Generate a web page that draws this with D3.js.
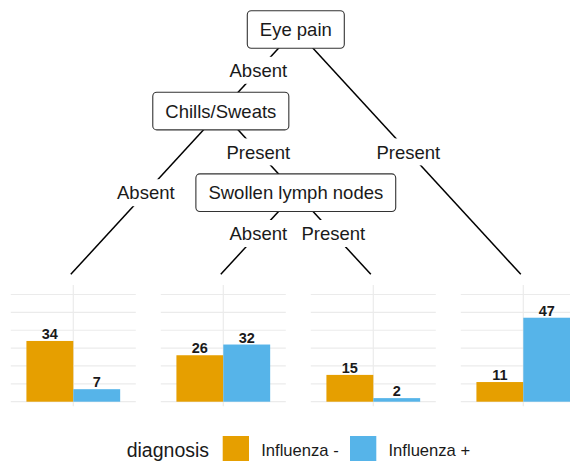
<!DOCTYPE html>
<html>
<head>
<meta charset="utf-8">
<script src="https://cdn.jsdelivr.net/npm/d3@7"></script>
<style>
  html, body { margin: 0; padding: 0; background: #fff; }
  svg { display: block; font-family: 'Liberation Sans', Arial, sans-serif; }
</style>
</head>
<body>
<div id="chart"></div>
<script>
// tree structure (order of rows = order of children)
const nodeIds = ['n1', 'n2', 'n3', 'n4', 'n5', 'n6', 'n7'];
const nodeParents = [null, 'n1', 'n2', 'n2', 'n4', 'n4', 'n1'];
const nodeLabels = ['Eye pain', 'Chills/Sweats', null, 'Swollen lymph nodes', null, null, null];
const edgeLabels = [null, 'Absent', 'Absent', 'Present', 'Absent', 'Present', 'Present'];

// terminal node counts
const diagnoses = ['Influenza -', 'Influenza +'];
const leafIds = ['n3', 'n5', 'n6', 'n7'];
const countsNeg = [34, 26, 15, 11];
const countsPos = [7, 32, 2, 47];

const colors = ['#E69F00', '#56B4E9'];

const width = 570;
const height = 461;

const svg = d3.select('#chart').append('svg')
  .attr('width', width)
  .attr('height', height);

const table = nodeIds.map((id, i) => ({ id, parent: nodeParents[i], label: nodeLabels[i], edge: edgeLabels[i] }));
const root = d3.stratify().id(d => d.id).parentId(d => d.parent)(table);

// leaves spread evenly, inner nodes sit over the mean of their leaves
const leafX = d3.scalePoint().domain(leafIds).range([70.8, 520.8]);
const depthY = d3.scaleLinear().domain([0, 3]).range([29.5, 274.3]);
root.each(d => {
  const leaves = d.leaves();
  d.x = d3.mean(leaves, l => leafX(l.id));
  d.y = d.children ? depthY(d.depth) : depthY(3);
});

const ink = '#1a1a1a';
const fontSize = 18.5;

// panels
const panelW = 125;
const y = d3.scaleLinear().domain([0, 60]).range([401.7, 294.5]);
const panelTop = y(65.3);
const panelBottom = y(-2.5);
const bandX = d3.scaleBand().domain(diagnoses).paddingInner(0);

const panels = svg.append('g').selectAll('g')
  .data(leafIds.map((id, i) => ({ id, values: [countsNeg[i], countsPos[i]] })))
  .join('g')
  .attr('transform', d => `translate(${leafX(d.id) + 2.5},0)`);

panels.selectAll('line.h')
  .data(y.ticks(6))
  .join('line')
  .attr('class', 'h')
  .attr('x1', -panelW / 2).attr('x2', panelW / 2)
  .attr('y1', d => y(d)).attr('y2', d => y(d))
  .attr('stroke', '#ebebeb').attr('stroke-width', 1.2);

panels.append('line')
  .attr('x1', 0).attr('x2', 0)
  .attr('y1', panelTop).attr('y2', panelBottom)
  .attr('stroke', '#ebebeb').attr('stroke-width', 1.2);

const barHalf = panelW / 1.2 * 0.9 / 2;
bandX.range([-barHalf, barHalf]);

panels.selectAll('rect')
  .data(d => d.values.map((v, i) => ({ key: diagnoses[i], v, i })))
  .join('rect')
  .attr('x', d => bandX(d.key))
  .attr('width', bandX.bandwidth())
  .attr('y', d => y(d.v))
  .attr('height', d => y(0) - y(d.v))
  .attr('fill', d => colors[d.i]);

panels.selectAll('text')
  .data(d => d.values.map((v, i) => ({ key: diagnoses[i], v })))
  .join('text')
  .attr('x', d => bandX(d.key) + bandX.bandwidth() / 2)
  .attr('y', d => y(d.v) - 1.8)
  .attr('text-anchor', 'middle')
  .attr('font-size', 14.5)
  .attr('font-weight', 'bold')
  .attr('fill', ink)
  .text(d => d.v);

// edges
const links = root.links();
const tree = svg.append('g');

tree.selectAll('line.edge')
  .data(links)
  .join('line')
  .attr('class', 'edge')
  .attr('x1', d => d.source.x).attr('y1', d => d.source.y)
  .attr('x2', d => d.target.x).attr('y2', d => d.target.y)
  .attr('stroke', '#000').attr('stroke-width', 1.5);

const edgeG = tree.selectAll('g.elabel')
  .data(links)
  .join('g')
  .attr('class', 'elabel')
  .attr('transform', d => `translate(${(d.source.x + d.target.x) / 2},${(d.source.y + d.target.y) / 2})`);

edgeG.append('text')
  .attr('text-anchor', 'middle')
  .attr('y', fontSize * 0.36)
  .attr('font-size', fontSize)
  .attr('fill', ink)
  .text(d => d.target.data.edge);

edgeG.insert('rect', 'text')
  .each(function () {
    const w = this.parentNode.querySelector('text').getComputedTextLength();
    d3.select(this)
      .attr('x', -w / 2 - 5).attr('width', w + 10)
      .attr('y', -13.5).attr('height', 27)
      .attr('fill', '#fff');
  });

// inner nodes
const nodeG = tree.selectAll('g.node')
  .data(root.descendants().filter(d => d.children))
  .join('g')
  .attr('class', 'node')
  .attr('transform', d => `translate(${d.x},${d.y})`);

nodeG.append('text')
  .attr('text-anchor', 'middle')
  .attr('y', fontSize * 0.36)
  .attr('font-size', fontSize)
  .attr('fill', ink)
  .text(d => d.data.label);

nodeG.insert('rect', 'text')
  .each(function () {
    const w = this.parentNode.querySelector('text').getComputedTextLength();
    d3.select(this)
      .attr('x', -w / 2 - 12.5).attr('width', w + 25)
      .attr('y', -18.8).attr('height', 37.6)
      .attr('rx', 4).attr('ry', 4)
      .attr('fill', '#fff')
      .attr('stroke', '#333').attr('stroke-width', 1.1);
  });

// legend
const legend = svg.append('g');
legend.append('text')
  .attr('x', 126.7).attr('y', 456.5)
  .attr('font-size', 19.5)
  .attr('fill', ink)
  .text('diagnosis');

const keyX = [222.7, 350];
const keys = legend.selectAll('g.key')
  .data(diagnoses)
  .join('g')
  .attr('class', 'key')
  .attr('transform', (d, i) => `translate(${keyX[i]},436)`);

keys.append('rect')
  .attr('width', 26.3).attr('height', 26.3)
  .attr('fill', (d, i) => colors[i]);

keys.append('text')
  .attr('x', 38.5).attr('y', 20.3)
  .attr('font-size', 16.6)
  .attr('fill', ink)
  .text(d => d);
</script>
</body>
</html>
